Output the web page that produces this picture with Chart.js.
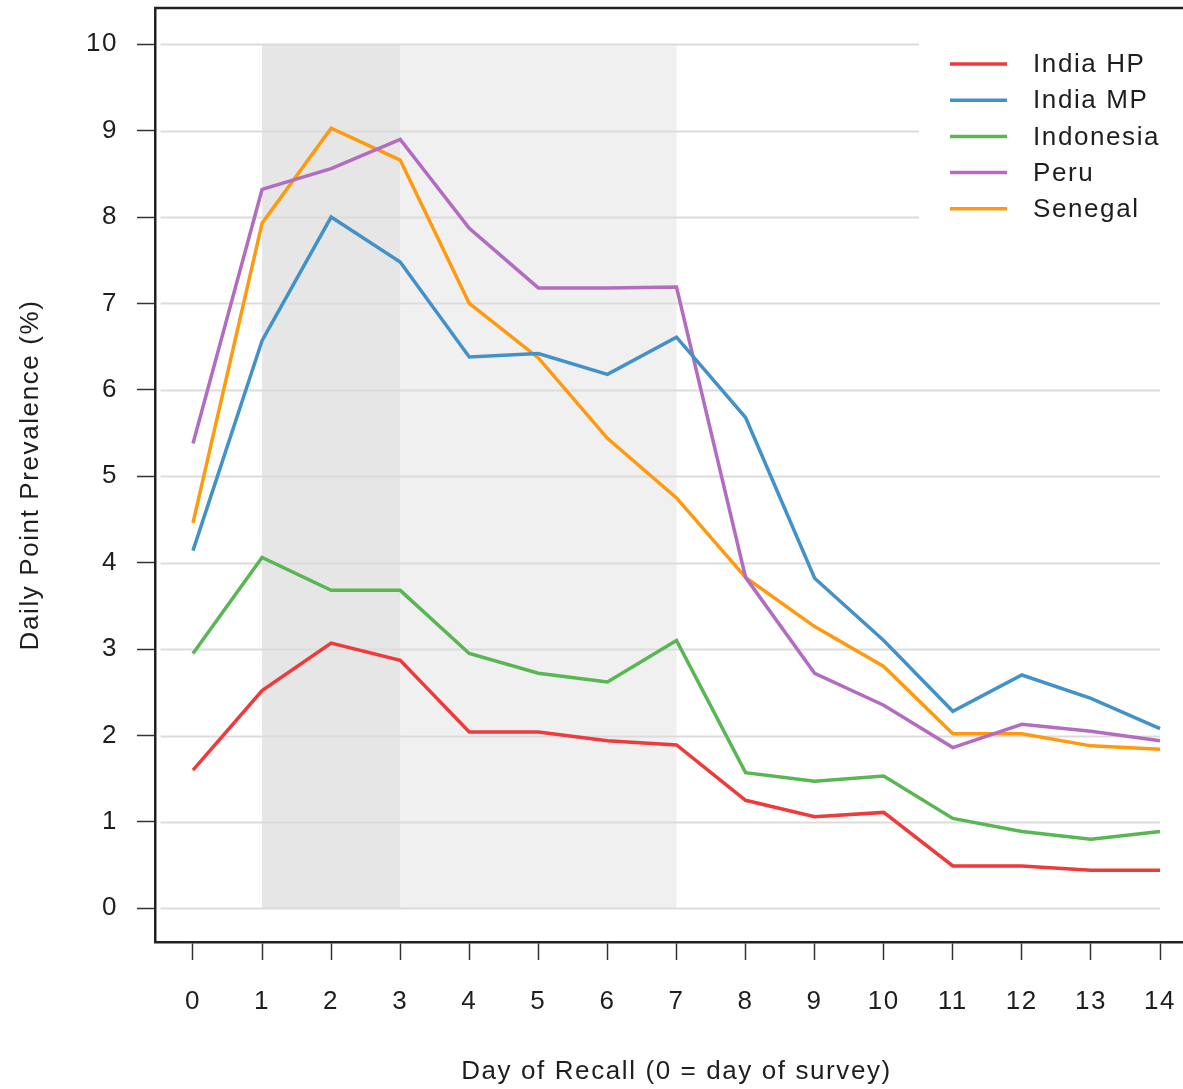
<!DOCTYPE html>
<html>
<head>
<meta charset="utf-8">
<script src="https://cdn.jsdelivr.net/npm/chart.js@4/dist/chart.umd.min.js"></script>
<style>
  html, body { margin: 0; padding: 0; background: #fff; overflow: hidden; }
  #wrap { width: 1183px; height: 1089px; overflow: hidden; position: relative; }
  canvas { display: block; }
</style>
</head>
<body>
<div id="wrap"><canvas id="c" width="1210" height="1089"></canvas></div>
<script>
const days = [0, 1, 2, 3, 4, 5, 6, 7, 8, 9, 10, 11, 12, 13, 14];
const yTicks = [0, 1, 2, 3, 4, 5, 6, 7, 8, 9, 10];
const seriesNames = ["India HP", "India MP", "Indonesia", "Peru", "Senegal"];
const indiaHP   = [1.60, 2.52, 3.07, 2.87, 2.04, 2.04, 1.94, 1.89, 1.25, 1.06, 1.11, 0.49, 0.49, 0.44, 0.44];
const indiaMP   = [4.14, 6.57, 8.00, 7.48, 6.38, 6.42, 6.18, 6.61, 5.68, 3.82, 3.10, 2.28, 2.70, 2.43, 2.08];
const indonesia = [2.95, 4.06, 3.68, 3.68, 2.95, 2.72, 2.62, 3.10, 1.57, 1.47, 1.53, 1.04, 0.89, 0.80, 0.89];
const peru      = [5.38, 8.32, 8.56, 8.90, 7.87, 7.18, 7.18, 7.19, 3.83, 2.72, 2.35, 1.86, 2.13, 2.05, 1.94];
const senegal   = [4.46, 7.93, 9.03, 8.66, 7.00, 6.37, 5.44, 4.75, 3.83, 3.26, 2.80, 2.02, 2.02, 1.88, 1.84];
const shadeDark = [1, 3];
const shadeLight = [3, 7];

const colors = ["#ee3a3a", "#4292c9", "#58b653", "#b26cc1", "#ff9a0e"];
const values = [indiaHP, indiaMP, indonesia, peru, senegal];
const FONT = "'Liberation Sans', Arial, Helvetica, sans-serif";
const TXT = "#1e1e1e";
const LS = '1.6px';

const spacingPlugin = {
  id: 'spacing',
  beforeUpdate(chart) { chart.ctx.letterSpacing = LS; },
  beforeLayout(chart) { chart.ctx.letterSpacing = LS; },
  beforeDraw(chart) { chart.ctx.letterSpacing = LS; }
};

const bgPlugin = {
  id: 'bg',
  beforeDatasetsDraw(chart) {
    const {ctx, scales: {x, y}} = chart;
    ctx.save();
    const yT = y.getPixelForValue(10), yB = y.getPixelForValue(0);
    ctx.fillStyle = '#f0f0f0';
    ctx.fillRect(x.getPixelForValue(shadeLight[0]), yT, x.getPixelForValue(shadeLight[1]) - x.getPixelForValue(shadeLight[0]), yB - yT);
    ctx.fillStyle = '#e6e6e6';
    ctx.fillRect(x.getPixelForValue(shadeDark[0]), yT, x.getPixelForValue(shadeDark[1]) - x.getPixelForValue(shadeDark[0]), yB - yT);
    ctx.strokeStyle = '#dcdcdc';
    ctx.lineWidth = 2;
    const gx0 = x.getPixelForValue(-0.47), gx1 = x.getPixelForValue(14);
    yTicks.forEach(v => {
      const py = Math.round(y.getPixelForValue(v)) + 0.5;
      ctx.beginPath(); ctx.moveTo(gx0, py); ctx.lineTo(gx1, py); ctx.stroke();
    });
    ctx.restore();
  },
  afterDatasetsDraw(chart) {
    const {ctx, chartArea} = chart;
    ctx.save();
    // legend box
    ctx.fillStyle = '#ffffff';
    ctx.fillRect(919, 24, 300, 220);
    // top frame
    ctx.strokeStyle = '#222';
    ctx.lineWidth = 2.5;
    ctx.beginPath(); ctx.moveTo(chartArea.left - 1, chartArea.top); ctx.lineTo(chartArea.right + 20, chartArea.top); ctx.stroke();
    ctx.font = "26px " + FONT;
    ctx.textBaseline = 'middle';
    ctx.textAlign = 'left';
    seriesNames.forEach((n, i) => {
      const yy = 64 + i * 36.2;
      ctx.strokeStyle = colors[i];
      ctx.lineWidth = 3.5;
      ctx.beginPath(); ctx.moveTo(950, yy); ctx.lineTo(1007, yy); ctx.stroke();
      ctx.fillStyle = TXT;
      ctx.fillText(n, 1033, yy + 1);
    });
    ctx.restore();
  }
};

new Chart(document.getElementById('c'), {
  type: 'line',
  data: {
    datasets: seriesNames.map((n, i) => ({
      label: n,
      data: days.map((d, k) => ({x: d, y: values[i][k]})),
      borderColor: colors[i],
      borderWidth: 3.5,
      pointRadius: 0,
      tension: 0,
      fill: false
    }))
  },
  options: {
    responsive: false,
    animation: false,
    layout: { padding: { top: 8, right: 12, left: 0, bottom: 0 } },
    plugins: { legend: { display: false }, tooltip: { enabled: false } },
    scales: {
      x: {
        type: 'linear', min: -0.55, max: 14.55,
        afterBuildTicks: s => { s.ticks = days.map(v => ({value: v})); },
        afterFit: s => { s.height = 147; s.paddingLeft = 0; s.paddingRight = 0; },
        ticks: { font: { size: 26, family: FONT }, color: TXT, padding: 26, maxRotation: 0, autoSkip: false },
        grid: { drawOnChartArea: false, drawTicks: true, tickLength: 18, tickColor: '#333', tickWidth: 1.5 },
        border: { display: true, color: '#222', width: 2.5 },
        title: { display: true, text: 'Day of Recall (0 = day of survey)', font: { size: 26, family: FONT }, color: TXT, padding: { top: 0, bottom: 2 } }
      },
      y: {
        type: 'linear', min: -0.39, max: 10.42,
        afterBuildTicks: s => { s.ticks = yTicks.map(v => ({value: v})); },
        afterFit: s => { s.width = 155; s.paddingTop = 0; s.paddingBottom = 0; },
        ticks: { font: { size: 26, family: FONT }, color: TXT, padding: 19, autoSkip: false },
        grid: { drawOnChartArea: false, drawTicks: true, tickLength: 18, tickColor: '#333', tickWidth: 1.5 },
        border: { display: true, color: '#222', width: 2.5 },
        title: { display: true, text: 'Daily Point Prevalence (%)', font: { size: 26, family: FONT }, color: TXT, padding: { top: 15, bottom: 0 } }
      }
    }
  },
  plugins: [spacingPlugin, bgPlugin]
});
</script>
</body>
</html>
